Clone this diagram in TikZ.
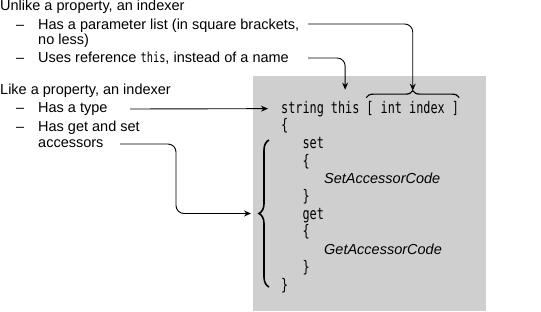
\documentclass[tikz,border=0pt]{standalone}
\usepackage{fontspec}
\setmainfont{Liberation Sans}
\newfontfamily\codefont[FakeStretch=0.74]{DejaVu Sans Mono}
\usetikzlibrary{arrows.meta,decorations.pathreplacing}

\begin{document}
\begin{tikzpicture}[x=1pt,y=-1pt,
  txt/.style={anchor=base west,inner sep=0pt,font=\fontsize{14.5}{15}\selectfont},
  code/.style={anchor=base west,inner sep=0pt,font=\codefont\fontsize{16}{17}\selectfont},
  codeit/.style={anchor=base west,inner sep=0pt,font=\fontsize{14.5}{15}\selectfont\itshape},
  conn/.style={line width=0.9pt,rounded corners=8pt,-{Stealth[length=7pt,width=6pt]}},
  bracetop/.style={decorate,decoration={brace,amplitude=7pt},line width=1.2pt},
  braceleft/.style={decorate,decoration={brace,amplitude=10pt},line width=1.6pt}]
\useasboundingbox (0,0) rectangle (541,311);

% shaded code panel
\fill[black!19] (253,76) rectangle (486,311);

% notes: what sets an indexer apart
\node[txt] (u0) at (0,10.5) {Unlike a property, an indexer};
\node[txt] (u1d) at (16,29) {–};
\node[txt] (u1) at (38,29) {Has a parameter list (in square brackets,};
\node[txt] (u1b) at (38,44) {no less)};
\node[txt] (u2d) at (16,62) {–};
\node[txt] (u2) at (38,62) {Uses reference {\codefont\fontsize{14}{15}\selectfont this}, instead of a name};

% notes: what it shares with a property
\node[txt] (l0) at (0,94) {Like a property, an indexer};
\node[txt] (l1d) at (16,112) {–};
\node[txt] (l1) at (38,112) {Has a type};
\node[txt] (l2d) at (16,131) {–};
\node[txt] (l2) at (38,131) {Has get and set};
\node[txt] (l2b) at (38,147) {accessors};

% indexer declaration
\def\cw{7.1}
\node[code] (kstring) at (281,113) {string};
\node[code] (kthis) at (281+7*\cw,113) {this};
\node[code] (kidx) at (281+12*\cw,113) {[ int index ]};
\node[code] (c1) at (281,130.7) {\{};
\node[code] (c2) at (281+3*\cw,148.4) {set};
\node[code] (c3) at (281+3*\cw,166.1) {\{};
\node[codeit] (c4) at (324,183.8) {SetAccessorCode};
\node[code] (c5) at (281+3*\cw,201.5) {\}};
\node[code] (c6) at (281+3*\cw,219.2) {get};
\node[code] (c7) at (281+3*\cw,236.9) {\{};
\node[codeit] (c8) at (324,254.6) {GetAccessorCode};
\node[code] (c9) at (281+3*\cw,272.3) {\}};
\node[code] (c10) at (281,290) {\}};

% braces
\draw[bracetop] ([yshift=3pt]kidx.north west) -- ([yshift=3pt]kidx.north east);
\coordinate (tbtip) at ([yshift=10pt]kidx.north);
\draw[braceleft] (269,287) -- (269,140);
\coordinate (lbtip) at (251,213.5);

% connectors
\coordinate (s1) at (308,24);
\coordinate (s2) at (308,58);
\coordinate (s3) at (130,109);
\coordinate (s4) at (120,144);
\coordinate (bend) at (176,213.5);
\draw[conn] (s1) -| (tbtip);
\draw[conn] (s2) -| ([yshift=11pt]kthis.north);
\draw[conn] (s3) -- ([xshift=-13pt]kstring.west);
\draw[conn] (s4) -| (bend) -- (lbtip);
\end{tikzpicture}
\end{document}
